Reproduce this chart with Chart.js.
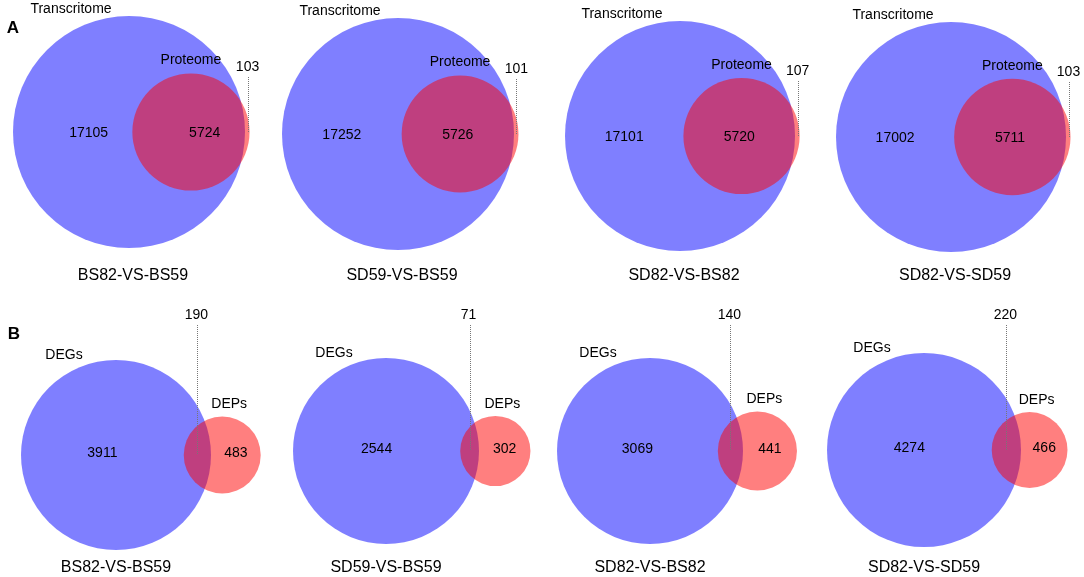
<!DOCTYPE html>
<html>
<head>
<meta charset="utf-8">
<script src="https://cdn.jsdelivr.net/npm/chart.js@4.4.1/dist/chart.umd.min.js"></script>
<style>
  body { margin: 0; background: #fff; }
</style>
</head>
<body>
<canvas id="venn" width="1084" height="577"></canvas>
<script>
// comparisons (same four for both rows)
const comparisons = ['BS82-VS-BS59', 'SD59-VS-BS59', 'SD82-VS-BS82', 'SD82-VS-SD59'];

// row A: transcriptome vs proteome
const transcriptomeOnly = [17105, 17252, 17101, 17002];
const transProtShared = [5724, 5726, 5720, 5711];
const proteomeOnly = [103, 101, 107, 103];

// row B: DEGs vs DEPs
const degOnly = [3911, 2544, 3069, 4274];
const degDepShared = [190, 71, 140, 220];
const depOnly = [483, 302, 441, 466];

// where each panel sits on the page: centre of the big circle + its size in px
const panelAnchor = [
  { cx: 129, cy: 132, R: 116, shift: 16 },
  { cx: 398, cy: 134, R: 116, shift: 0 },
  { cx: 680, cy: 136, R: 115, shift: 0 },
  { cx: 951, cy: 137, R: 115, shift: 0 },
  { cx: 116, cy: 455, R: 95, shift: 0 },
  { cx: 386, cy: 451, R: 93, shift: 0 },
  { cx: 650, cy: 451, R: 93, shift: 0 },
  { cx: 924, cy: 450, R: 97, shift: 0 }
];

const W = 1084, H = 577;
const FONT = 'Arial, "Liberation Sans", sans-serif';

// area of overlap of two circles with radii r1, r2 at distance d
function lensArea(r1, r2, d) {
  if (d >= r1 + r2) return 0;
  if (d <= Math.abs(r1 - r2)) return Math.PI * Math.min(r1, r2) ** 2;
  const a1 = Math.acos((d * d + r1 * r1 - r2 * r2) / (2 * d * r1));
  const a2 = Math.acos((d * d + r2 * r2 - r1 * r1) / (2 * d * r2));
  const k = Math.sqrt((-d + r1 + r2) * (d + r1 - r2) * (d - r1 + r2) * (d + r1 + r2));
  return r1 * r1 * a1 + r2 * r2 * a2 - 0.5 * k;
}

// distance between centres so that the overlap area equals target
function centreGap(r1, r2, target) {
  let lo = Math.abs(r1 - r2), hi = r1 + r2;
  for (let i = 0; i < 60; i++) {
    const mid = (lo + hi) / 2;
    if (lensArea(r1, r2, mid) > target) lo = mid; else hi = mid;
  }
  return (lo + hi) / 2;
}

// build the 8 panels from the counts
const panels = [];
for (let i = 0; i < 4; i++) {
  panels.push({ row: 'A', title: comparisons[i], names: ['Transcritome', 'Proteome'],
    left: transcriptomeOnly[i], both: transProtShared[i], right: proteomeOnly[i] });
}
for (let i = 0; i < 4; i++) {
  panels.push({ row: 'B', title: comparisons[i], names: ['DEGs', 'DEPs'],
    left: degOnly[i], both: degDepShared[i], right: depOnly[i] });
}
panels.forEach((p, i) => {
  p.r1 = Math.sqrt((p.left + p.both) / Math.PI);
  p.r2 = Math.sqrt((p.right + p.both) / Math.PI);
  p.d = centreGap(p.r1, p.r2, p.both);
  p.anchor = panelAnchor[i];
});

const scales = {};
const datasets = [];
panels.forEach((p, i) => {
  const a = p.anchor;
  const s = a.R / p.r1; // px per unit
  scales['x' + i] = { type: 'linear', display: false, min: -a.cx / s, max: (W - a.cx) / s };
  scales['y' + i] = { type: 'linear', display: false, min: -(H - a.cy) / s, max: a.cy / s };
  datasets.push({
    label: p.names[0], data: [{ x: 0, y: 0 }], rUnits: p.r1,
    xAxisID: 'x' + i, yAxisID: 'y' + i, order: 2,
    backgroundColor: 'rgba(0,0,255,0.5)'
  });
  datasets.push({
    label: p.names[1], data: [{ x: p.d, y: 0 }], rUnits: p.r2,
    xAxisID: 'x' + i, yAxisID: 'y' + i, order: 1,
    backgroundColor: 'rgba(255,0,0,0.5)'
  });
});

function pxRadius(ctx) {
  const sc = ctx.chart.scales[ctx.dataset.xAxisID];
  return Math.abs(sc.getPixelForValue(ctx.dataset.rUnits) - sc.getPixelForValue(0));
}

const vennText = {
  id: 'vennText',
  afterDatasetsDraw(chart) {
    const c = chart.ctx;
    c.save();
    c.fillStyle = '#000';
    c.textAlign = 'center';
    c.textBaseline = 'middle';

    function txt(t, x, y, size, bold) {
      c.font = (bold ? 'bold ' : '') + size + 'px ' + FONT;
      c.fillText(t, x, y);
    }
    function leader(x, y0, y1) {
      c.save();
      c.strokeStyle = '#777';
      c.lineWidth = 1;
      c.setLineDash([1, 1]);
      c.beginPath();
      c.moveTo(Math.round(x) + 0.5, y0);
      c.lineTo(Math.round(x) + 0.5, y1);
      c.stroke();
      c.restore();
    }

    panels.forEach((p, i) => {
      const xs = chart.scales['x' + i], ys = chart.scales['y' + i];
      const bx = xs.getPixelForValue(0), by = ys.getPixelForValue(0);
      const R = xs.getPixelForValue(p.r1) - bx;
      const rx = xs.getPixelForValue(p.d);
      const rr = xs.getPixelForValue(p.d + p.r2) - rx;
      const sh = p.anchor.shift;
      if (p.row === 'A') {
        txt(p.names[0], bx - 58, by - R - 7, 14);
        txt(p.names[1], rx, by - rr - 13, 14);
        txt(String(p.left), ((bx - R) + (rx - rr)) / 2 + sh, by + 1, 14);
        txt(String(p.both), ((rx - rr) + (bx + R)) / 2 + sh, by + 1, 14);
        const lx = rx + rr - 2;
        leader(lx, by - 55, by);
        txt(String(p.right), lx, by - 65, 14);
        txt(p.title, bx + 4, 276, 16);
      } else {
        txt(p.names[0], bx - 52, by - R - 5, 14);
        txt(p.names[1], rx + 7, by - rr - 12, 14);
        txt(String(p.left), ((bx - R) + (rx - rr)) / 2, by - 2, 14);
        txt(String(p.right), ((bx + R) + (rx + rr)) / 2, by - 2, 14);
        const lx = ((bx + R) + (rx - rr)) / 2;
        leader(lx, 325, by);
        txt(String(p.both), lx - 1, 315, 14);
        txt(p.title, bx, 568, 16);
      }
    });

    txt('A', 13, 28, 17, true);
    txt('B', 14, 334, 17, true);
    c.restore();
  }
};

new Chart(document.getElementById('venn'), {
  type: 'scatter',
  data: { datasets: datasets },
  options: {
    responsive: false,
    animation: false,
    events: [],
    layout: { padding: 0 },
    clip: false,
    elements: {
      point: {
        radius: pxRadius,
        hoverRadius: pxRadius,
        borderWidth: 0,
        hoverBorderWidth: 0
      }
    },
    scales: scales,
    plugins: {
      legend: { display: false },
      tooltip: { enabled: false }
    }
  },
  plugins: [vennText]
});
</script>
</body>
</html>
